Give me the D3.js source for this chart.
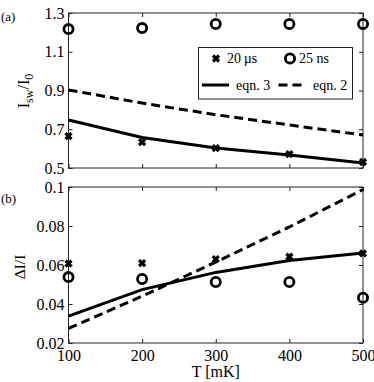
<!DOCTYPE html>
<html>
<head>
<meta charset="utf-8">
<script src="https://cdn.jsdelivr.net/npm/d3@7"></script>
</head>
<body style="margin:0; background:white">
<svg id="chart" width="374" height="382"></svg>
<script>
// temperatures [mK]
var temps = [100, 200, 300, 400, 500];

// panel (a): switching current I_sw/I_0
var isw_20us = [0.665, 0.634, 0.603, 0.572, 0.531];
var isw_25ns = [1.217, 1.222, 1.243, 1.243, 1.243];
var isw_eqn3 = [0.748, 0.657, 0.603, 0.567, 0.526];
var isw_eqn2 = [0.903, 0.835, 0.775, 0.722, 0.670];

// panel (b): width dI/I
var dI_20us = [0.0607, 0.061, 0.063, 0.0643, 0.066];
var dI_25ns = [0.0538, 0.0528, 0.0513, 0.0513, 0.0432];
var dI_eqn3 = [0.0338, 0.0474, 0.0562, 0.0623, 0.0662];
var dI_eqn2 = [0.0275, 0.044, 0.0615, 0.0795, 0.0987];

var xTicks = [100, 200, 300, 400, 500];
var yTicksA = [0.5, 0.7, 0.9, 1.1, 1.3];
var yTicksB = [0.02, 0.04, 0.06, 0.08, 0.1];

var serif = 'Liberation Serif';
var svg = d3.select('#chart');
var left = 68.5, right = 363;

var xScale = d3.scaleLinear().domain([100, 500]).range([left, right]);
var yScaleA = d3.scaleLinear().domain([0.5, 1.3]).range([168, 13]);
var yScaleB = d3.scaleLinear().domain([0.02, 0.1]).range([343, 187]);

function draw_frame(yScale, yTicks, fmt, showX)  {
	var y0 = yScale.range()[0], y1 = yScale.range()[1];
	var tick = 4;
	// ticks on all four sides, pointing in
	svg.append('g').attr('transform', 'translate(0,' + y0 + ')')
		.call(d3.axisBottom(xScale).tickValues(xTicks).tickSizeInner(-tick).tickSizeOuter(0)
			.tickFormat(showX ? d3.format('d') : ''))
		.call(function(g)  {
			g.select('.domain').remove();
			g.attr('font-family', serif).attr('font-size', 16);
			g.selectAll('text').attr('dy', '0.95em');
		});
	svg.append('g').attr('transform', 'translate(0,' + y1 + ')')
		.call(d3.axisTop(xScale).tickValues(xTicks).tickSizeInner(-tick).tickSizeOuter(0).tickFormat(''))
		.call(function(g) { g.select('.domain').remove(); });
	svg.append('g').attr('transform', 'translate(' + left + ',0)')
		.call(d3.axisLeft(yScale).tickValues(yTicks).tickSizeInner(-tick).tickSizeOuter(0).tickPadding(4).tickFormat(fmt))
		.call(function(g)  {
			g.select('.domain').remove();
			g.attr('font-family', serif).attr('font-size', 16);
		});
	svg.append('g').attr('transform', 'translate(' + right + ',0)')
		.call(d3.axisRight(yScale).tickValues(yTicks).tickSizeInner(-tick).tickSizeOuter(0).tickFormat(''))
		.call(function(g) { g.select('.domain').remove(); });
	svg.selectAll('.tick line').attr('stroke', '#222');
	svg.append('rect')
		.attr('x', left).attr('y', y1)
		.attr('width', right - left).attr('height', y0 - y1)
		.attr('fill', 'none').attr('stroke', '#222').attr('stroke-width', 1);
}

function draw_line(yScale, values, dashed)  {
	var line = d3.line()
		.x(function(d, i) { return xScale(temps[i]); })
		.y(function(d) { return yScale(d); });
	svg.append('path')
		.datum(values)
		.attr('d', line)
		.attr('fill', 'none')
		.attr('stroke', 'black')
		.attr('stroke-width', 3)
		.attr('stroke-dasharray', dashed ? '9,5' : null);
}

function cross_path(cx, cy, s)  {
	return 'M' + (cx - s) + ',' + (cy - s) + 'L' + (cx + s) + ',' + (cy + s) +
		'M' + (cx - s) + ',' + (cy + s) + 'L' + (cx + s) + ',' + (cy - s);
}

function draw_crosses(yScale, values)  {
	svg.append('g').selectAll('path')
		.data(values)
		.enter()
		.append('path')
		.attr('d', function(d, i) { return cross_path(xScale(temps[i]), yScale(d), 3); })
		.attr('stroke', 'black')
		.attr('stroke-width', 3.2);
}

function draw_circles(yScale, values)  {
	svg.append('g').selectAll('circle')
		.data(values)
		.enter()
		.append('circle')
		.attr('cx', function(d, i) { return xScale(temps[i]); })
		.attr('cy', function(d) { return yScale(d); })
		.attr('r', 4.6)
		.attr('fill', 'none')
		.attr('stroke', 'black')
		.attr('stroke-width', 2.8);
}

function add_text(x, y, size, str)  {
	return svg.append('text')
		.attr('x', x).attr('y', y)
		.attr('font-family', serif).attr('font-size', size)
		.text(str);
}

//Panel (a)
draw_frame(yScaleA, yTicksA, d3.format('.1f'), false);
draw_line(yScaleA, isw_eqn2, true);
draw_line(yScaleA, isw_eqn3, false);
draw_crosses(yScaleA, isw_20us);
draw_circles(yScaleA, isw_25ns);

//Panel (b)
draw_frame(yScaleB, yTicksB, function(d) { return d === 0.1 ? '0.1' : d3.format('.2f')(d); }, true);
draw_line(yScaleB, dI_eqn2, true);
draw_line(yScaleB, dI_eqn3, false);
draw_crosses(yScaleB, dI_20us);
draw_circles(yScaleB, dI_25ns);

// legend
svg.append('rect')
	.attr('x', 198.5).attr('y', 47.5).attr('width', 154).attr('height', 51.5)
	.attr('fill', 'white').attr('stroke', '#222').attr('stroke-width', 1);
svg.append('path').attr('d', cross_path(216, 58.5, 3)).attr('stroke', 'black').attr('stroke-width', 3.2);
add_text(227, 63, 14, '20\u2009\u00b5s');
svg.append('circle').attr('cx', 290).attr('cy', 58.5).attr('r', 4.6)
	.attr('fill', 'none').attr('stroke', 'black').attr('stroke-width', 2.8);
add_text(299, 63, 14, '25 ns');
svg.append('line').attr('x1', 202).attr('x2', 229).attr('y1', 85).attr('y2', 85)
	.attr('stroke', 'black').attr('stroke-width', 3);
add_text(236, 89.5, 14, 'eqn. 3');
svg.append('line').attr('x1', 278.5).attr('x2', 306).attr('y1', 85).attr('y2', 85)
	.attr('stroke', 'black').attr('stroke-width', 3).attr('stroke-dasharray', '9,5');
add_text(313, 89.5, 14, 'eqn. 2');

// axis titles
var ya = add_text(0, 0, 16, null)
	.attr('transform', 'translate(29,91) rotate(-90)')
	.attr('text-anchor', 'middle');
ya.append('tspan').text('I');
ya.append('tspan').attr('dy', 4).attr('font-size', 12).text('sw');
ya.append('tspan').attr('dy', -4).text('/I');
ya.append('tspan').attr('dy', 4).attr('font-size', 12).text('0');

add_text(0, 0, 15.5, '\u0394I/I')
	.attr('transform', 'translate(25,267) rotate(-90)')
	.attr('text-anchor', 'middle');

add_text((left + right) / 2, 377, 16, 'T [mK]')
	.attr('text-anchor', 'middle');

add_text(1, 21, 13, '(a)');
add_text(1, 203, 13, '(b)');
</script>
</body>
</html>
